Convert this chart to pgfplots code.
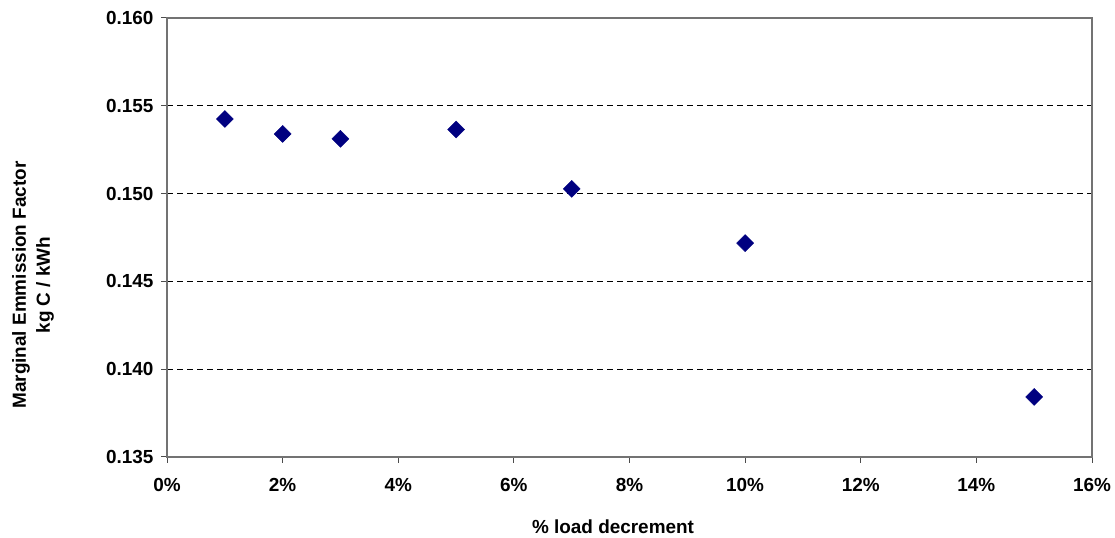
\documentclass[border=0pt]{standalone}
\usepackage{pgfplots}
\pgfplotsset{compat=1.18}
\usepackage{fontspec}
\setmainfont{Liberation Sans}
\definecolor{navy}{RGB}{0,0,128}
\begin{document}
\begin{tikzpicture}[x=1bp,y=1bp]
\begin{axis}[
  name=ax,
  at={(167bp,81bp)}, anchor=south west,
  scale only axis, width=925bp, height=439bp,
  xmin=0, xmax=16, ymin=0.135, ymax=0.160,
  xtick={0,2,...,16},
  xticklabels={0\%,2\%,4\%,6\%,8\%,10\%,12\%,14\%,16\%},
  ytick={0.135,0.140,0.145,0.150,0.155,0.160},
  yticklabel style={/pgf/number format/fixed,/pgf/number format/fixed zerofill,/pgf/number format/precision=3},
  /pgf/number format/assume math mode=true,
  tick label style={font=\fontsize{19}{21}\selectfont\bfseries},
  xticklabel style={yshift=-12bp},
  yticklabel style={xshift=-4bp},
  axis line style={draw=black!55, line width=1.2bp},
  tick style={draw=black!70, line width=1bp},
  tick align=outside, major tick length=6bp,
  xtick pos=bottom, ytick pos=left,
  ymajorgrids, grid style={dash pattern=on 6bp off 4bp, black, line width=0.8bp},
  clip=false,
]
\addplot[only marks, mark=square*, mark size=6bp, mark options={rotate=45, fill=navy, draw=navy}]
 coordinates {(1,0.15425) (2,0.15340) (3,0.15312) (5,0.15365) (7,0.15027) (10,0.14718) (15,0.13842)};
\end{axis}
\node[rotate=90, align=center, font=\fontsize{19}{24}\selectfont\bfseries] at (33bp,253bp) {Marginal Emmission Factor\\kg C / kWh};
\node[font=\fontsize{19}{21}\selectfont\bfseries] at (613bp,11bp) {\% load decrement};
\useasboundingbox (0,0) rectangle (1115bp,538bp);
\end{tikzpicture}
\end{document}
